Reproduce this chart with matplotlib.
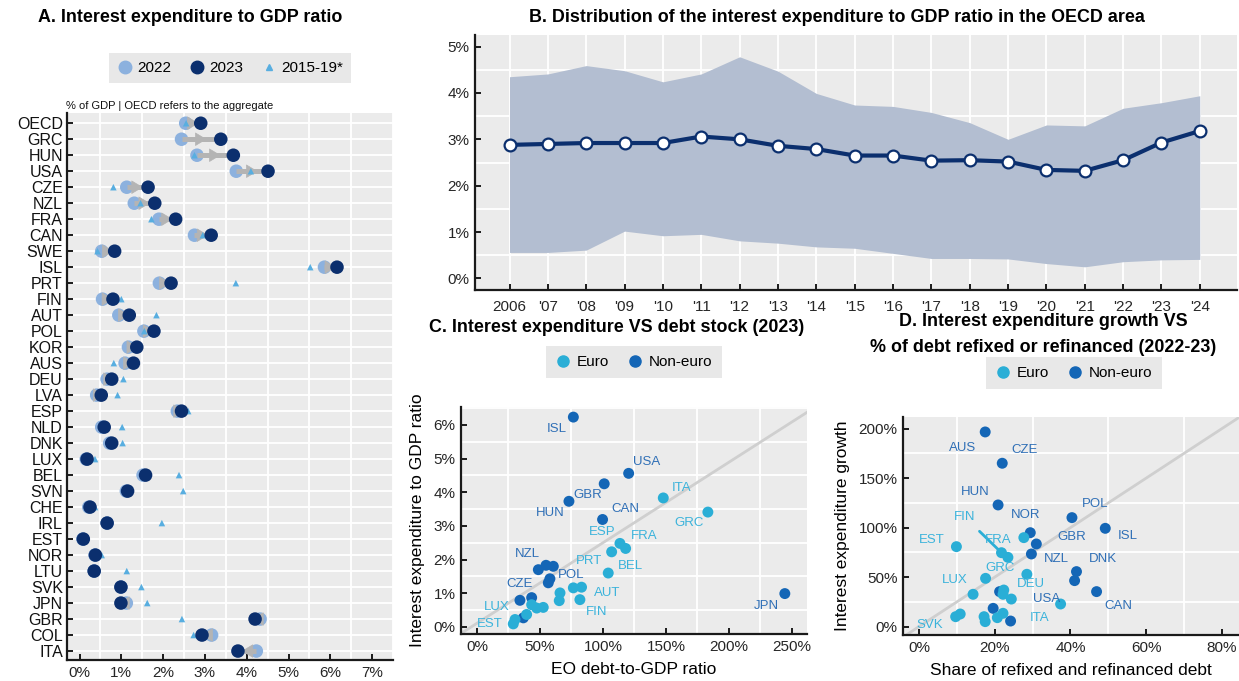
import matplotlib
matplotlib.use('Agg')
import matplotlib.pyplot as plt
import numpy as np
from matplotlib.lines import Line2D

plt.rcParams['font.family'] = ['Liberation Sans', 'DejaVu Sans']
TITLE_FAMILY = ['Liberation Sans', 'DejaVu Sans']
TITLE_SIZE = 12.9

# ---------------- Data ----------------
# Panel A
countries_a = ['OECD', 'GRC', 'HUN', 'USA', 'CZE', 'NZL', 'FRA', 'CAN', 'SWE', 'ISL', 'PRT', 'FIN',
               'AUT', 'POL', 'KOR', 'AUS', 'DEU', 'LVA', 'ESP', 'NLD', 'DNK', 'LUX', 'BEL', 'SVN',
               'CHE', 'IRL', 'EST', 'NOR', 'LTU', 'SVK', 'JPN', 'GBR', 'COL', 'ITA']
ratio_2022 = [2.54, 2.44, 2.81, 3.75, 1.13, 1.31, 1.90, 2.75, 0.53, 5.86, 1.91, 0.55, 0.94, 1.54,
              1.17, 1.09, 0.66, 0.41, 2.34, 0.53, 0.72, 0.16, 1.52, 1.12, 0.22, 0.66, 0.08, 0.37,
              0.35, 0.99, 1.12, 4.32, 3.16, 4.23]
ratio_2023 = [2.90, 3.38, 3.68, 4.51, 1.64, 1.80, 2.30, 3.15, 0.84, 6.16, 2.19, 0.80, 1.19, 1.78,
              1.37, 1.29, 0.77, 0.52, 2.44, 0.59, 0.77, 0.18, 1.58, 1.15, 0.25, 0.66, 0.09, 0.38,
              0.35, 0.99, 0.99, 4.20, 2.93, 3.79]
ratio_1519 = [2.55, 3.35, 2.75, 4.10, 0.81, 1.46, 1.72, 2.95, 0.43, 5.52, 3.74, 1.00, 1.84, 1.55,
              1.29, 0.82, 1.05, 0.91, 2.60, 1.02, 1.03, 0.37, 2.38, 2.48, 0.37, 1.97, 0.08, 0.53,
              1.13, 1.48, 1.62, 2.45, 2.73, 3.77]
x_ticks_a = [0, 1, 2, 3, 4, 5, 6, 7]

# Panel B
years_b = list(range(2006, 2025))
year_labels_b = ['2006', "'07", "'08", "'09", "'10", "'11", "'12", "'13", "'14", "'15", "'16",
                 "'17", "'18", "'19", "'20", "'21", "'22", "'23", "'24"]
median_b = [2.88, 2.90, 2.92, 2.92, 2.92, 3.06, 3.00, 2.86, 2.79, 2.65, 2.65, 2.54, 2.55, 2.52,
            2.34, 2.32, 2.55, 2.93, 3.18]
high_b = [4.35, 4.41, 4.59, 4.48, 4.24, 4.41, 4.78, 4.47, 3.99, 3.74, 3.71, 3.58, 3.36, 3.00,
          3.31, 3.29, 3.67, 3.79, 3.94]
low_b = [0.56, 0.56, 0.61, 1.02, 0.92, 0.95, 0.81, 0.76, 0.68, 0.65, 0.54, 0.43, 0.43, 0.42,
         0.32, 0.25, 0.36, 0.40, 0.41]

# Panel C
names_c = ['ISL', 'USA', 'GBR', 'HUN', 'CAN', 'JPN', 'CZE', 'NZL', 'POL', 'KOR', 'AUS', 'SWE',
           'DNK', 'CHE',
           'ITA', 'GRC', 'ESP', 'FRA', 'PRT', 'BEL', 'AUT', 'SVN', 'FIN', 'SVK', 'DEU', 'NLD',
           'LVA', 'IRL', 'LTU', 'LUX', 'EST']
debt_c = [76.5, 120.4, 101.0, 73.0, 99.7, 244.4, 48.7, 54.8, 60.6, 57.9, 56.6, 34.1, 43.4, 36.8,
          147.9, 183.3, 113.5, 118.0, 106.9, 104.2, 83.0, 76.5, 81.7, 65.9, 65.3, 52.6, 47.4,
          43.4, 39.4, 30.2, 28.8]
interest_c = [6.23, 4.56, 4.25, 3.73, 3.19, 0.99, 1.70, 1.83, 1.80, 1.43, 1.31, 0.79, 0.87, 0.27,
              3.83, 3.41, 2.48, 2.33, 2.23, 1.60, 1.18, 1.16, 0.81, 1.01, 0.78, 0.58, 0.56,
              0.66, 0.37, 0.22, 0.09]
euro_c = [False] * 14 + [True] * 17
fit_c = (0.0239, 0.11)   # slope, intercept of the reference line

# Panel D
names_d = ['AUS', 'CZE', 'HUN', 'POL', 'ISL', 'NOR', 'GBR', 'NZL', 'DNK', 'SWE', 'CAN', 'USA',
           'JPN', 'CHE',
           'EST', 'FIN', 'PRT', 'FRA', 'GRC', 'DEU', 'LUX', 'ITA', 'SVK', 'AUT', 'BEL', 'NLD',
           'SVN', 'LVA', 'LTU', 'IRL', 'ESP']
share_d = [17.5, 22.0, 20.9, 40.4, 49.2, 29.4, 31.0, 29.7, 41.6, 41.1, 46.9, 21.3, 19.6, 24.2,
           9.9, 21.8, 23.5, 27.7, 28.5, 22.4, 17.6, 37.4, 9.7, 22.2, 24.4, 14.3, 10.9, 17.2,
           17.5, 20.7, 22.2]
growth_d = [196.6, 165.0, 122.9, 110.1, 99.3, 94.9, 83.5, 73.4, 55.6, 46.5, 35.4, 35.4, 18.5, 5.7,
            80.8, 74.7, 70.0, 89.9, 52.9, 37.0, 48.8, 22.9, 10.1, 32.7, 27.9, 32.7, 12.8, 10.1,
            5.1, 9.1, 13.5]
euro_d = [False] * 14 + [True] * 17
ref_slope_d = 2.5

# ---------------- Layout / style ----------------
BG = '#ebebeb'
NAVY = '#0b2f6e'
LIGHT = '#8cb1de'
TRI = '#58aee0'
GRAY = '#b4b4b4'
EURO = '#2aaed6'
NONEURO = '#1466b6'
EURO_TXT = '#3bb3db'
NONEURO_TXT = '#2f6fb6'

label_off_c = {'ISL': (-17, -12), 'USA': (18, 11), 'GBR': (-16, -11), 'HUN': (-19, -12),
               'CAN': (23, 10), 'ITA': (18, 10), 'GRC': (-19, -11), 'ESP': (-18, 11),
               'FRA': (19, 12), 'PRT': (-23, -9), 'BEL': (22, 7), 'NZL': (-19, 11),
               'POL': (18, -9), 'CZE': (-19, -14), 'LUX': (-18, 13), 'EST': (-24, 0),
               'AUT': (26, -6), 'FIN': (17, -12), 'JPN': (-18, -12)}
label_off_d = {'AUS': (-23, -16), 'CZE': (22, 13), 'HUN': (-23, 13), 'POL': (23, 14),
               'ISL': (22, -8), 'NOR': (-5, 18), 'GBR': (35, 7), 'NZL': (25, -5),
               'DNK': (26, 13), 'CAN': (22, -14), 'USA': (47, -7), 'EST': (-25, 7),
               'FRA': (-26, -2), 'GRC': (-27, 6), 'DEU': (27, 6), 'LUX': (-31, -2),
               'ITA': (-21, -14), 'SVK': (-26, -8)}
leader_d = {'FIN': (-37, 36)}

W, H = 1239, 681
fig = plt.figure(figsize=(W / 100, H / 100), dpi=100)


def rect(l, t, r, b):
    return [l / W, 1 - b / H, (r - l) / W, (b - t) / H]


def style(ax):
    ax.set_facecolor(BG)
    for s in ['top', 'right']:
        ax.spines[s].set_visible(False)
    for s in ['left', 'bottom']:
        ax.spines[s].set_color('#1a1a1a')
        ax.spines[s].set_linewidth(1.6)
    ax.tick_params(which='major', direction='in', length=4.5, width=1.4, color='#1a1a1a',
                   labelsize=11, labelcolor='#262626', pad=4)
    ax.tick_params(which='minor', length=0)
    ax.set_axisbelow(True)


def pct(v):
    return f'{v:g}%'


def style_legend(leg):
    fr = leg.get_frame()
    fr.set_facecolor('#e3e3e3')
    fr.set_edgecolor('none')
    fr.set_boxstyle('square', pad=0)


# ---------------- Panel A ----------------
axA = fig.add_axes(rect(67, 113, 393, 660))
style(axA)
ypos = np.arange(len(countries_a))
axA.set_xlim(-0.30, 7.33)
axA.set_ylim(len(countries_a) - 0.44, -0.64)
axA.set_xticks(x_ticks_a)
axA.set_xticklabels([pct(v) for v in x_ticks_a])
axA.set_xticks(np.arange(0, 7.51, 0.5), minor=True)
axA.set_yticks(ypos)
axA.set_yticklabels(countries_a, fontsize=11.5, color='#111111')
axA.grid(axis='x', which='minor', color='white', lw=1.3)
axA.grid(axis='y', which='major', color='white', lw=1.3)
axA.tick_params(axis='y', pad=3)

axA.scatter(ratio_2022, ypos, s=95, color=LIGHT, zorder=2, edgecolors='none')
for i, (a, b) in enumerate(zip(ratio_2022, ratio_2023)):
    if abs(b - a) > 0.08:
        axA.plot([a, b], [i, i], color=GRAY, lw=3.6, solid_capstyle='butt', zorder=3)
        mid = (a + b) / 2
        d = np.sign(b - a)
        axA.annotate('', xy=(mid + d * 0.13, i), xytext=(mid - d * 0.02, i),
                     arrowprops=dict(arrowstyle='-|>,head_width=0.45,head_length=0.75',
                                     color=GRAY, lw=0.5, shrinkA=0, shrinkB=0),
                     zorder=3)
axA.scatter(ratio_1519, ypos, s=22, marker='^', color=TRI, zorder=4, edgecolors='none')
axA.scatter(ratio_2023, ypos, s=95, color=NAVY, zorder=5, edgecolors='none')

fig.text(190 / W, 1 - 18 / H, 'A. Interest expenditure to GDP ratio', ha='center', va='center',
         fontsize=TITLE_SIZE, fontweight='bold', family=TITLE_FAMILY)
fig.text(66 / W, 1 - 106 / H, '% of GDP | OECD refers to the aggregate', ha='left', va='center',
         fontsize=8, color='#111111')
hA = [Line2D([], [], ls='none', marker='o', ms=9, color=LIGHT),
      Line2D([], [], ls='none', marker='o', ms=9, color=NAVY),
      Line2D([], [], ls='none', marker='^', ms=5, color=TRI)]
legA = fig.legend(hA, ['2022', '2023', '2015-19*'], loc='center', bbox_to_anchor=(230 / W, 1 - 68 / H),
                  ncol=3, frameon=True, fontsize=11, handletextpad=0.3, columnspacing=1.2,
                  borderpad=0.5, handlelength=1.0)
style_legend(legA)

# ---------------- Panel B ----------------
axB = fig.add_axes(rect(475, 35, 1237, 290))
style(axB)
axB.set_xlim(2005.1, 2024.97)
axB.set_ylim(-0.25, 5.25)
axB.set_xticks(years_b)
axB.set_xticklabels(year_labels_b)
axB.set_yticks(range(6))
axB.set_yticklabels([pct(v) for v in range(6)])
axB.set_yticks(np.arange(0, 5.01, 0.5), minor=True)
axB.grid(axis='y', which='minor', color='white', lw=1.3)
axB.grid(axis='x', which='major', color='white', lw=1.3)
axB.tick_params(axis='x', pad=7)
axB.fill_between(years_b, low_b, high_b, color='#b3bed1', lw=0, zorder=1)
axB.plot(years_b, median_b, color=NAVY, lw=3, marker='o', ms=8.5, mfc='white', mec=NAVY,
         mew=1.6, zorder=3)
fig.text(837 / W, 1 - 18 / H,
         'B. Distribution of the interest expenditure to GDP ratio in the OECD area',
         ha='center', va='center', fontsize=TITLE_SIZE, fontweight='bold', family=TITLE_FAMILY)

# ---------------- Panel C ----------------
axC = fig.add_axes(rect(461, 407, 807, 634))
style(axC)
axC.set_xlim(-12.7, 262)
axC.set_ylim(-0.21, 6.53)
xt_c = [0, 50, 100, 150, 200, 250]
axC.set_xticks(xt_c)
axC.set_xticklabels([pct(v) for v in xt_c])
axC.set_xticks(np.arange(0, 251, 25), minor=True)
axC.set_yticks(range(7))
axC.set_yticklabels([pct(v) for v in range(7)])
axC.set_yticks(np.arange(0, 6.51, 0.5), minor=True)
axC.grid(which='minor', color='white', lw=1.3)
xs = np.array([-20.0, 280.0])
axC.plot(xs, fit_c[0] * xs + fit_c[1], color='#cfcfcf', lw=2, zorder=1.5)
colc = [EURO if e else NONEURO for e in euro_c]
axC.scatter(debt_c, interest_c, s=62, c=colc, edgecolors='none', zorder=3)
for n, x, y, e in zip(names_c, debt_c, interest_c, euro_c):
    if n in label_off_c:
        axC.annotate(n, (x, y), xytext=label_off_c[n], textcoords='offset pixels',
                     ha='center', va='center', fontsize=9.5,
                     color=EURO_TXT if e else NONEURO_TXT, zorder=4)
axC.set_xlabel('EO debt-to-GDP ratio', fontsize=12.5, labelpad=6)
axC.set_ylabel('Interest expenditure to GDP ratio', fontsize=12.5, labelpad=6)
fig.text(617 / W, 1 - 328 / H, 'C. Interest expenditure VS debt stock (2023)', ha='center',
         va='center', fontsize=TITLE_SIZE, fontweight='bold', family=TITLE_FAMILY)
hC = [Line2D([], [], ls='none', marker='o', ms=8, color=EURO),
      Line2D([], [], ls='none', marker='o', ms=8, color=NONEURO)]
legC = fig.legend(hC, ['Euro', 'Non-euro'], loc='center', bbox_to_anchor=(634 / W, 1 - 362 / H),
                  ncol=2, fontsize=11, handletextpad=0.4, columnspacing=1.2, borderpad=0.6,
                  handlelength=1.0)
style_legend(legC)

# ---------------- Panel D ----------------
axD = fig.add_axes(rect(903, 416.7, 1239, 635))
style(axD)
axD.set_xlim(-4.2, 84.5)
axD.set_ylim(-8.4, 212)
xt_d = [0, 20, 40, 60, 80]
axD.set_xticks(xt_d)
axD.set_xticklabels([pct(v) for v in xt_d])
axD.set_xticks(np.arange(0, 81, 10), minor=True)
yt_d = [0, 50, 100, 150, 200]
axD.set_yticks(yt_d)
axD.set_yticklabels([pct(v) for v in yt_d])
axD.set_yticks(np.arange(0, 201, 25), minor=True)
axD.grid(which='minor', color='white', lw=1.3)
xs = np.array([-10.0, 100.0])
axD.plot(xs, ref_slope_d * xs, color='#cfcfcf', lw=2, zorder=1.5)
cold = [EURO if e else NONEURO for e in euro_d]
axD.scatter(share_d, growth_d, s=62, c=cold, edgecolors='none', zorder=3)
for n, x, y, e in zip(names_d, share_d, growth_d, euro_d):
    col = EURO_TXT if e else NONEURO_TXT
    if n in label_off_d:
        axD.annotate(n, (x, y), xytext=label_off_d[n], textcoords='offset pixels',
                     ha='center', va='center', fontsize=9.5, color=col, zorder=4)
    elif n in leader_d:
        axD.annotate(n, (x, y), xytext=leader_d[n], textcoords='offset pixels',
                     ha='center', va='center', fontsize=9.5, color=col, zorder=4,
                     arrowprops=dict(arrowstyle='-', color=EURO, lw=2, shrinkA=6, shrinkB=3))
axD.set_xlabel('Share of refixed and refinanced debt', fontsize=12.5, labelpad=6)
axD.set_ylabel('Interest expenditure growth', fontsize=12.5, labelpad=6)
fig.text(1043 / W, 1 - 322 / H, 'D. Interest expenditure growth VS', ha='center', va='center',
         fontsize=TITLE_SIZE, fontweight='bold', family=TITLE_FAMILY)
fig.text(1043 / W, 1 - 347 / H, '% of debt refixed or refinanced (2022-23)', ha='center',
         va='center', fontsize=TITLE_SIZE, fontweight='bold', family=TITLE_FAMILY)
hD = [Line2D([], [], ls='none', marker='o', ms=8, color=EURO),
      Line2D([], [], ls='none', marker='o', ms=8, color=NONEURO)]
legD = fig.legend(hD, ['Euro', 'Non-euro'], loc='center', bbox_to_anchor=(1074 / W, 1 - 373 / H),
                  ncol=2, fontsize=11, handletextpad=0.4, columnspacing=1.2, borderpad=0.6,
                  handlelength=1.0)
style_legend(legD)

fig.savefig('out.png', dpi=100)
